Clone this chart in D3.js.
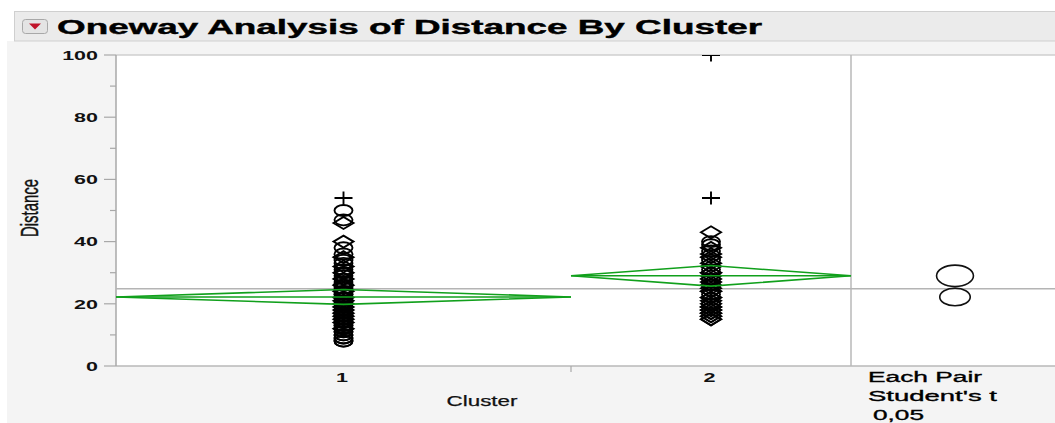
<!DOCTYPE html>
<html lang="en">
<head>
<meta charset="UTF-8">
<title>Oneway Analysis of Distance By Cluster</title>
<script src="https://cdn.jsdelivr.net/npm/d3@7/dist/d3.min.js"></script>
<style>
  * { margin: 0; padding: 0; }
  body { background: #fff; overflow: hidden; }
  svg { display: block; font-family: "Liberation Sans", Arial, sans-serif; }
</style>
</head>
<body>
<svg id="chart" width="1055" height="423"></svg>
<script>
// ---- data ----
const clusters = ['1', '2'];

// o = circle, d = diamond, + = plus
const cluster1Values = [54, 50, 47, 46, 40, 38, 36, 35, 34, 33, 32, 31, 30, 30, 30, 29, 28, 28, 27, 26,
  26, 26, 25, 24, 24, 24, 23, 23, 22, 22, 22, 21, 21, 20, 20, 20, 19, 19, 18, 18,
  18, 17, 17, 16, 16, 16, 15, 15, 15, 14, 14, 14, 13, 13, 12, 12, 12, 11, 11, 10,
  10, 9, 9, 8, 8];
const cluster1Marks = ['+', 'o', 'o', 'd', 'd', 'o', 'o', 'd', 'o', 'o', 'd', 'o', 'o', 'd', 'o', 'o', 'o', 'd', 'o', 'o',
  'd', 'o', 'o', 'o', 'd', 'o', 'o', 'o', 'd', 'o', 'o', 'o', 'd', 'o', 'o', 'd', 'd', 'o', 'o', 'o',
  'd', 'd', 'o', 'o', 'o', 'd', 'd', 'o', 'o', 'o', 'd', 'o', 'o', 'o', 'o', 'd', 'o', 'o', 'o', 'o',
  'o', 'o', 'o', 'o', 'o'];

const cluster2Values = [100, 54, 43, 40, 39, 38, 37, 36, 35, 34, 33, 32, 31, 30, 30, 29, 28, 28, 27, 26,
  26, 25, 24, 24, 23, 22, 22, 21, 20, 20, 19, 19, 18, 18, 17, 17, 16, 16, 15, 15];
const cluster2Marks = ['+', '+', 'd', 'o', 'o', 'd', 'o', 'd', 'd', 'o', 'd', 'd', 'o', 'd', 'd', 'd', 'o', 'd', 'd', 'd',
  'o', 'd', 'd', 'd', 'o', 'd', 'd', 'd', 'd', 'o', 'd', 'd', 'd', 'd', 'd', 'd', 'd', 'd', 'd', 'd'];

const groupMeans = [22.2, 29.0];
const ciHalfWidths = [2.4, 3.3];
const grandMean = 24.8;
const compareRadii = [2.85, 3.45];   // comparison circle radii, data units

const yTicks = [0, 20, 40, 60, 80, 100];
const yMinorTicks = [10, 30, 50, 70, 90];

// ---- layout ----
const svg = d3.select('#chart');
const plot = { left: 116, right: 851, top: 55, bottom: 366 };
const panelRight = 1055;
const circleX = 955;
const xStretch = 1.72;   // the picture is squeezed wide

const groups = [cluster1Values, cluster2Values].map((vals, i) => ({
  name: clusters[i],
  values: vals,
  marks: [cluster1Marks, cluster2Marks][i],
  mean: groupMeans[i],
  ci: ciHalfWidths[i],
}));
const total = d3.sum(groups, g => g.values.length);

const x = d3.scaleLinear().domain([0, total]).range([plot.left, plot.right]);
const y = d3.scaleLinear().domain([0, 100]).range([plot.bottom, plot.top]);

let cum = 0;
groups.forEach(g => {
  g.x0 = x(cum);
  cum += g.values.length;
  g.x1 = x(cum);
  g.cx = (g.x0 + g.x1) / 2;
});

function fitText(sel, len) {
  sel.attr('textLength', len).attr('lengthAdjust', 'spacingAndGlyphs');
}
function stretchText(sel, k) {
  sel.each(function () {
    const w = this.getComputedTextLength();
    d3.select(this).attr('textLength', w * k).attr('lengthAdjust', 'spacingAndGlyphs');
  });
}

// ---- backgrounds ----
svg.append('rect').attr('x', 7).attr('y', 41).attr('width', 1048).attr('height', 382).attr('fill', '#f4f4f4');

// title bar
svg.append('rect').attr('x', 14.5).attr('y', 11.5).attr('width', 1050).attr('height', 29.5)
  .attr('fill', '#ebebeb').attr('stroke', '#cfcfcf');
svg.append('rect').attr('x', 22.5).attr('y', 19.5).attr('width', 25).attr('height', 14).attr('rx', 3)
  .attr('fill', '#e4e4e4').attr('stroke', '#a8a8a8');
svg.append('path').attr('d', 'M29,23.5 L41,23.5 L35,29.5 Z').attr('fill', '#c0142a');
svg.append('text').attr('x', 57).attr('y', 34).attr('font-size', 20).attr('font-weight', 'bold')
  .attr('fill', '#000').attr('stroke', '#000').attr('stroke-width', 0.4)
  .text('Oneway Analysis of Distance By Cluster').call(fitText, 705);

// plot and compare panel
svg.append('rect').attr('x', plot.left).attr('y', plot.top).attr('width', panelRight - plot.left)
  .attr('height', plot.bottom - plot.top).attr('fill', '#fff');

const frame = svg.append('g').attr('stroke', '#b8b8b8').attr('stroke-width', 1.5);
frame.append('line').attr('x1', plot.left).attr('x2', panelRight).attr('y1', plot.top).attr('y2', plot.top).attr('stroke', '#cfcfcf');
frame.append('line').attr('x1', plot.left).attr('x2', panelRight).attr('y1', plot.bottom).attr('y2', plot.bottom);
frame.append('line').attr('x1', plot.right).attr('x2', plot.right).attr('y1', plot.top).attr('y2', plot.bottom);
frame.append('line').attr('x1', plot.left).attr('x2', plot.left).attr('y1', plot.top).attr('y2', plot.bottom).attr('stroke', '#a8a8a8');

// grand mean
svg.append('line').attr('x1', plot.left).attr('x2', panelRight)
  .attr('y1', y(grandMean)).attr('y2', y(grandMean))
  .attr('stroke', '#b4b4b4').attr('stroke-width', 1.5);

// ---- y axis ----
const yAxis = svg.append('g');
yAxis.selectAll('line.major').data(yTicks).join('line')
  .attr('x1', plot.left - 12).attr('x2', plot.left).attr('y1', d => y(d)).attr('y2', d => y(d))
  .attr('stroke', '#a8a8a8').attr('stroke-width', 1.2);
yAxis.selectAll('line.minor').data(yMinorTicks).join('line')
  .attr('x1', plot.left - 6).attr('x2', plot.left).attr('y1', d => y(d)).attr('y2', d => y(d))
  .attr('stroke', '#a8a8a8').attr('stroke-width', 1.2);
yAxis.selectAll('text').data(yTicks).join('text')
  .attr('x', 98).attr('y', d => y(d)).attr('dy', '0.37em').attr('text-anchor', 'end')
  .attr('font-size', 13).attr('font-weight', 'bold').attr('fill', '#111')
  .text(d => d).call(stretchText, 1.65);

svg.append('text').attr('transform', 'translate(38,208) rotate(-90) scale(1,1.8)')
  .attr('text-anchor', 'middle').attr('font-size', 13.5).attr('fill', '#111')
  .attr('stroke', '#111').attr('stroke-width', 0.25)
  .text('Distance').call(fitText, 58);

// ---- x axis ----
svg.append('line').attr('x1', groups[1].x0).attr('x2', groups[1].x0)
  .attr('y1', plot.bottom).attr('y2', plot.bottom + 6).attr('stroke', '#a8a8a8').attr('stroke-width', 1.2);
svg.selectAll('text.xtick').data(groups).join('text')
  .attr('x', d => d.cx - 1.5).attr('y', 381.5).attr('text-anchor', 'middle')
  .attr('font-size', 13.5).attr('font-weight', 'bold').attr('fill', '#111')
  .text(d => d.name).call(stretchText, 1.6);
svg.append('text').attr('x', 482).attr('y', 406).attr('text-anchor', 'middle')
  .attr('font-size', 15).attr('fill', '#111').attr('stroke', '#111').attr('stroke-width', 0.25)
  .text('Cluster').call(fitText, 71);

// ---- points ----
svg.append('clipPath').attr('id', 'clip').append('rect')
  .attr('x', plot.left).attr('y', plot.top).attr('width', plot.right - plot.left).attr('height', plot.bottom - plot.top);
const pts = svg.append('g').attr('clip-path', 'url(#clip)')
  .attr('fill', 'none').attr('stroke', '#000').attr('stroke-width', 1.9);

function markerPath(m, cx, cy) {
  if (m === 'd') return `M${cx - 10},${cy} L${cx},${cy - 6} L${cx + 10},${cy} L${cx},${cy + 6} Z`;
  return `M${cx - 9},${cy} H${cx + 9} M${cx},${cy - 6.5} V${cy + 6.5}`;
}

groups.forEach(g => {
  const data = g.values.map((v, i) => ({ v, m: g.marks[i] }));
  pts.selectAll(null).data(data.filter(d => d.m === 'o')).join('ellipse')
    .attr('cx', g.cx).attr('cy', d => y(d.v)).attr('rx', 9).attr('ry', 5.5);
  pts.selectAll(null).data(data.filter(d => d.m !== 'o')).join('path')
    .attr('d', d => markerPath(d.m, g.cx, y(d.v)));
});

// ---- means diamonds ----
const diam = svg.append('g').attr('fill', 'none').attr('stroke', '#11a01c').attr('stroke-width', 1.6);
diam.selectAll('path').data(groups).join('path')
  .attr('d', g => `M${g.x0},${y(g.mean)} L${g.cx},${y(g.mean + g.ci)} L${g.x1},${y(g.mean)} L${g.cx},${y(g.mean - g.ci)} Z`);
diam.selectAll('line').data(groups).join('line')
  .attr('x1', g => g.x0).attr('x2', g => g.x1).attr('y1', g => y(g.mean)).attr('y2', g => y(g.mean));

// ---- comparison circles ----
svg.append('g').selectAll('ellipse').data(groups).join('ellipse')
  .attr('cx', circleX).attr('cy', g => y(g.mean))
  .attr('ry', (g, i) => y(0) - y(compareRadii[i]))
  .attr('rx', (g, i) => (y(0) - y(compareRadii[i])) * xStretch)
  .attr('fill', 'none').attr('stroke', '#111').attr('stroke-width', 1.6);

const legend = svg.append('g').attr('font-size', 15.5).attr('fill', '#000')
  .attr('stroke', '#000').attr('stroke-width', 0.35);
legend.append('text').attr('x', 868).attr('y', 382).text('Each Pair').call(fitText, 114);
legend.append('text').attr('x', 868).attr('y', 401).text("Student's t").call(fitText, 129);
legend.append('text').attr('x', 873).attr('y', 419.5).text('0,05').call(fitText, 51);
</script>
</body>
</html>
